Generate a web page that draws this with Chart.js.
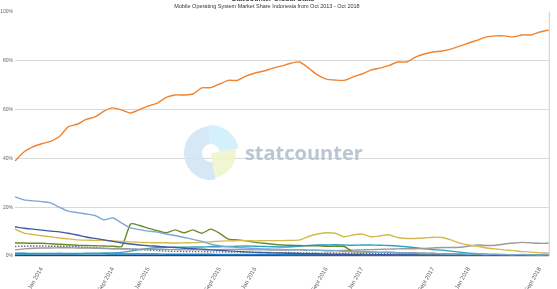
<!DOCTYPE html>
<html>
<head>
<meta charset="utf-8">
<script src="https://cdn.jsdelivr.net/npm/chart.js@4.4.0/dist/chart.umd.min.js"></script>
<style>
  html, body { margin: 0; padding: 0; background: #fff; }
  #wrap { width: 557px; height: 289px; position: relative; }
</style>
</head>
<body>
<div id="wrap"><canvas id="myChart"></canvas></div>
<script>
const siteName = 'StatCounter Global Stats';
const chartTitle = 'Mobile Operating System Market Share Indonesia from Oct 2013 - Oct 2018';

const months = [
    'Oct 2013', 'Nov 2013', 'Dec 2013',
    'Jan 2014', 'Feb 2014', 'Mar 2014', 'Apr 2014', 'May 2014', 'June 2014', 'July 2014', 'Aug 2014', 'Sept 2014', 'Oct 2014', 'Nov 2014', 'Dec 2014',
    'Jan 2015', 'Feb 2015', 'Mar 2015', 'Apr 2015', 'May 2015', 'June 2015', 'July 2015', 'Aug 2015', 'Sept 2015', 'Oct 2015', 'Nov 2015', 'Dec 2015',
    'Jan 2016', 'Feb 2016', 'Mar 2016', 'Apr 2016', 'May 2016', 'June 2016', 'July 2016', 'Aug 2016', 'Sept 2016', 'Oct 2016', 'Nov 2016', 'Dec 2016',
    'Jan 2017', 'Feb 2017', 'Mar 2017', 'Apr 2017', 'May 2017', 'June 2017', 'July 2017', 'Aug 2017', 'Sept 2017', 'Oct 2017', 'Nov 2017', 'Dec 2017',
    'Jan 2018', 'Feb 2018', 'Mar 2018', 'Apr 2018', 'May 2018', 'June 2018', 'July 2018', 'Aug 2018', 'Sept 2018', 'Oct 2018'
];
// only these months get an axis label
const tickLabels = ['Jan 2014', 'Sept 2014', 'Jan 2015', 'Sept 2015', 'Jan 2016', 'Sept 2016', 'Jan 2017', 'Sept 2017', 'Jan 2018', 'Sept 2018'];
const yTicks = [0, 20, 40, 60, 80, 100];

const android = [
    39.0, 42.6, 44.7, 46.0, 47.0, 49.0, 53.0, 54.0, 56.0, 57.0,
    59.4, 60.7, 59.8, 58.6, 60.0, 61.5, 62.7, 65.0, 66.0, 66.0,
    66.4, 68.9, 69.0, 70.5, 72.0, 72.0, 73.8, 75.0, 75.8, 77.0,
    77.9, 79.0, 79.5, 77.0, 74.2, 72.5, 72.1, 72.0, 73.4, 74.6,
    76.2, 77.0, 78.0, 79.5, 79.5, 81.5, 82.8, 83.6, 84.0, 84.8,
    86.0, 87.3, 88.5, 89.8, 90.2, 90.2, 89.8, 90.6, 90.6, 91.8, 92.6
];
const series40 = [
    24.2, 23.0, 22.6, 22.3, 21.8, 20.0, 18.4, 17.8, 17.2, 16.6,
    14.8, 15.6, 13.5, 11.5, 10.8, 10.2, 9.8, 9.0, 8.4, 7.6,
    6.8, 6.0, 4.8, 4.2, 3.8, 3.5, 3.3, 3.1, 2.9, 2.8,
    2.7, 2.5, 2.6, 2.3, 2.4, 2.1, 2.2, 1.9, 1.8, 1.9,
    1.6, 1.5, 1.6, 1.3, 1.4, 1.2, 1.0, 1.1, 0.9, 0.8,
    0.9, 0.7, 0.8, 0.6, 0.7, 0.6, 0.5, 0.6, 0.5, 0.4, 0.5
];
const blackberry = [
    12.0, 11.4, 11.0, 10.6, 10.2, 9.9, 9.3, 8.6, 7.8, 7.2,
    6.6, 6.0, 5.4, 4.9, 4.5, 4.2, 4.0, 3.7, 3.5, 3.2,
    3.0, 2.8, 2.5, 2.3, 2.1, 1.9, 1.7, 1.5, 1.4, 1.3,
    1.2, 1.1, 1.0, 0.9, 0.9, 0.8, 0.7, 0.7, 0.6, 0.6,
    0.5, 0.5, 0.5, 0.4, 0.4, 0.4, 0.3, 0.3, 0.3, 0.3,
    0.3, 0.2, 0.2, 0.2, 0.2, 0.2, 0.2, 0.2, 0.1, 0.1, 0.1
];
const unknown = [
    11.0, 9.4, 8.8, 8.3, 7.9, 7.4, 7.0, 6.6, 6.5, 6.4,
    6.4, 6.2, 6.0, 5.8, 5.6, 5.5, 5.4, 5.4, 5.3, 5.4,
    5.5, 5.6, 5.8, 6.1, 6.2, 6.3, 6.3, 6.2, 6.3, 6.3,
    6.3, 6.4, 6.6, 8.0, 9.0, 9.5, 9.3, 7.9, 8.6, 9.0,
    7.9, 8.2, 8.7, 7.6, 7.2, 7.2, 7.4, 7.7, 7.6, 6.6,
    5.3, 4.5, 4.0, 3.3, 2.9, 2.5, 2.2, 1.8, 1.6, 1.3, 1.2
];
const symbian = [
    5.4, 5.3, 5.2, 5.2, 5.0, 4.8, 4.6, 4.4, 4.3, 4.2,
    4.1, 4.0, 3.9, 13.1, 12.5, 11.3, 10.4, 9.5, 10.7, 9.5,
    10.7, 9.3, 11.0, 9.3, 6.9, 6.6, 6.2, 5.6, 5.2, 4.8,
    4.5, 4.4, 4.3, 4.2, 4.2, 4.0, 4.0, 3.9, 1.8, 1.7,
    1.6, 1.5, 1.5, 1.4, 1.3, 1.2, 1.1, 1.0, 0.9, 0.8,
    0.7, 0.6, 0.5, 0.5, 0.4, 0.4, 0.3, 0.3, 0.3, 0.2, 0.2
];
const ios = [
    2.5, 2.9, 3.2, 3.3, 3.3, 3.4, 3.4, 3.3, 3.3, 3.2,
    3.1, 3.0, 3.0, 2.9, 2.8, 2.8, 2.7, 2.6, 2.6, 2.5,
    2.5, 2.5, 2.6, 2.6, 2.7, 2.7, 2.6, 2.5, 2.5, 2.4,
    2.4, 2.5, 2.5, 2.4, 2.3, 2.3, 2.2, 2.3, 2.4, 2.5,
    2.6, 2.7, 2.8, 2.9, 3.0, 3.0, 3.1, 3.3, 3.5, 3.5,
    3.6, 4.0, 4.5, 4.3, 4.4, 4.9, 5.3, 5.6, 5.4, 5.2, 5.2
];
const samsung = [
    0.8, 0.8, 0.9, 0.9, 0.9, 1.0, 1.0, 1.0, 1.1, 1.1,
    1.2, 1.3, 1.5, 2.0, 2.6, 3.1, 3.4, 3.5, 3.6, 3.6,
    3.7, 3.7, 3.8, 3.8, 3.9, 4.0, 4.1, 4.0, 3.9, 3.8,
    3.7, 3.8, 4.0, 4.3, 4.5, 4.5, 4.6, 4.5, 4.4, 4.5,
    4.5, 4.4, 4.3, 4.1, 3.8, 3.4, 3.0, 2.6, 2.4, 2.0,
    1.6, 1.2, 0.9, 0.7, 0.6, 0.5, 0.5, 0.4, 0.4, 0.4, 0.3
];
const nokiaUnknown = [
    3.9, 4.0, 4.1, 4.1, 4.0, 4.0, 3.9, 3.8, 3.6, 3.4,
    3.2, 3.0, 2.9, 2.7, 2.6, 2.4, 2.2, 2.0, 1.9, 1.8,
    1.8, 1.8, 1.7, 1.7, 1.6, 1.6, 1.5, 1.5, 1.5, 1.4,
    1.4, 1.4, 1.3, 1.3, 1.2, 1.2, 1.2, 1.1, 1.1, 1.0,
    1.0, 1.0, 0.9, 0.9, 0.9, 0.8, 0.8, 0.8, 0.7, 0.7,
    0.7, 0.6, 0.6, 0.6, 0.5, 0.5, 0.5, 0.5, 0.4, 0.4, 0.4
];
const windows = [
    1.1, 1.1, 1.0, 1.0, 1.0, 1.0, 0.9, 0.9, 0.9, 0.9,
    0.9, 0.8, 0.8, 0.8, 0.8, 0.8, 0.8, 0.7, 0.7, 0.7,
    0.7, 0.7, 0.7, 0.6, 0.6, 0.6, 0.6, 0.6, 0.6, 0.6,
    0.5, 0.5, 0.5, 0.5, 0.5, 0.5, 0.5, 0.5, 0.5, 0.4,
    0.4, 0.4, 0.4, 0.4, 0.4, 0.4, 0.4, 0.3, 0.3, 0.3,
    0.3, 0.3, 0.3, 0.3, 0.3, 0.3, 0.2, 0.2, 0.2, 0.2, 0.2
];
const other = [
    0.3, 0.3, 0.3, 0.3, 0.3, 0.3, 0.3, 0.3, 0.2, 0.2,
    0.2, 0.2, 0.2, 0.2, 0.2, 0.2, 0.2, 0.2, 0.2, 0.2,
    0.2, 0.2, 0.2, 0.2, 0.2, 0.2, 0.2, 0.2, 0.2, 0.2,
    0.2, 0.2, 0.2, 0.1, 0.1, 0.1, 0.1, 0.1, 0.1, 0.1,
    0.1, 0.1, 0.1, 0.1, 0.1, 0.1, 0.1, 0.1, 0.1, 0.1,
    0.1, 0.1, 0.1, 0.1, 0.1, 0.1, 0.1, 0.1, 0.1, 0.1, 0.1
];

function line(label, data, color, dash) {
    return {
        label: label,
        data: data,
        borderColor: color,
        backgroundColor: color,
        borderWidth: 1.4,
        borderDash: dash || [],
        pointRadius: 0,
        tension: 0.2,
        fill: false
    };
}

// statcounter watermark, titles and the right frame line
const decorPlugin = {
    id: 'decor',
    beforeDatasetsDraw(chart) {
        const ctx = chart.ctx;
        const a = chart.chartArea;
        const cx = a.left + (a.right - a.left) * 0.367;
        const cy = a.top + (a.bottom - a.top) * 0.578;
        ctx.save();
        ctx.globalAlpha = 0.85;
        const seg = (r0, r1, s, e, col) => {
            ctx.beginPath();
            ctx.arc(cx, cy, r1, s, e);
            ctx.arc(cx, cy, r0, e, s, true);
            ctx.closePath();
            ctx.fillStyle = col;
            ctx.fill();
        };
        const d = Math.PI / 180;
        seg(9, 27, 80 * d, 265 * d, '#cfe3f4');
        seg(9, 28, 265 * d, 350 * d, '#cdeefa');
        seg(0, 25, 350 * d, 440 * d, '#eef3c9');
        ctx.globalAlpha = 1;
        ctx.fillStyle = '#b9c6d3';
        ctx.font = 'bold 20px "Open Sans"';
        ctx.textBaseline = 'alphabetic';
        ctx.textAlign = 'left';
        ctx.fillText('statcounter', cx + 34, cy + 7);
        ctx.restore();
    },
    afterDraw(chart) {
        const ctx = chart.ctx;
        const a = chart.chartArea;
        ctx.save();
        ctx.strokeStyle = '#cccccc';
        ctx.lineWidth = 1;
        ctx.beginPath();
        ctx.moveTo(a.right + 0.5, a.top);
        ctx.lineTo(a.right + 0.5, a.bottom);
        ctx.stroke();
        ctx.textAlign = 'center';
        ctx.textBaseline = 'middle';
        ctx.fillStyle = '#444';
        ctx.font = 'bold 7px "Liberation Sans"';
        ctx.fillText(siteName, 273, -1);
        ctx.font = '5.5px "Liberation Sans"';
        ctx.fillStyle = '#333';
        ctx.fillText(chartTitle, 267, 6.5);
        ctx.restore();
    }
};

document.addEventListener("DOMContentLoaded", function() {
    const ctx = document.getElementById('myChart').getContext('2d');

    const data = {
        labels: months,
        datasets: [
            line('Android', android, '#f0832f'),
            line('Series 40', series40, '#7ba7d7'),
            line('BlackBerry OS', blackberry, '#3f5a9e'),
            line('Unknown', unknown, '#d6b94b'),
            line('Symbian OS', symbian, '#6a8a2c'),
            line('iOS', ios, '#9b9b9b'),
            line('Samsung', samsung, '#2aa0c2'),
            line('Nokia Unknown', nokiaUnknown, '#6d6d6d', [1.5, 1.5]),
            line('Windows', windows, '#1f7cc8'),
            line('Other', other, '#24407f')
        ]
    };

    const config = {
        type: 'line',
        data: data,
        options: {
            responsive: true,
            maintainAspectRatio: false,
            animation: false,
            layout: {
                padding: { top: 12, right: 2, left: 0, bottom: 0 }
            },
            scales: {
                x: {
                    offset: false,
                    grid: { display: false },
                    border: { display: false },
                    ticks: {
                        autoSkip: false,
                        minRotation: 60,
                        maxRotation: 60,
                        padding: 2,
                        color: '#666',
                        font: { family: 'Liberation Sans', size: 6 },
                        callback: function(value) {
                            const l = this.getLabelForValue(value);
                            return tickLabels.includes(l) ? l : '';
                        }
                    },
                    afterFit: function(scale) { scale.height = 33; }
                },
                y: {
                    min: yTicks[0],
                    max: yTicks[yTicks.length - 1],
                    afterBuildTicks: function(scale) {
                        scale.ticks = yTicks.map(v => ({ value: v }));
                    },
                    grid: {
                        color: (c) => c.tick && c.tick.value === 100 ? 'rgba(0,0,0,0)' : '#d9d9d9',
                        drawTicks: false
                    },
                    border: { display: false },
                    ticks: {
                        padding: 2,
                        color: '#666',
                        font: { family: 'Liberation Sans', size: 5 },
                        callback: (v) => v + '%'
                    },
                    afterFit: function(scale) { scale.width = 15; }
                }
            },
            plugins: {
                legend: { display: false },
                title: { display: false },
                tooltip: { enabled: false }
            }
        },
        plugins: [decorPlugin]
    };

    const myChart = new Chart(ctx, config);
});
</script>
</body>
</html>
